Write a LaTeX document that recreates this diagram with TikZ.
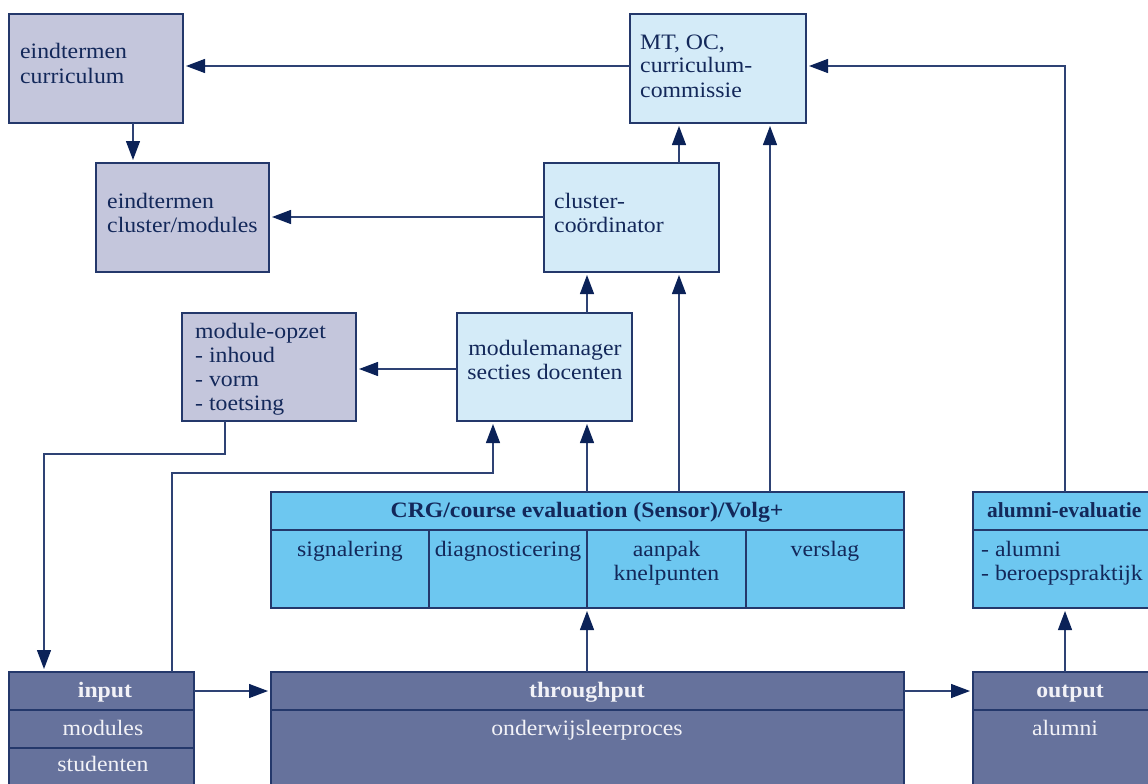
\documentclass[tikz,border=0pt]{standalone}
\usepackage{fontspec}
\setmainfont{Liberation Serif}[FakeStretch=1.08]
\newfontfamily\narrowserif{Liberation Serif}
\usetikzlibrary{arrows.meta}
\definecolor{lav}{HTML}{C4C6DC}
\definecolor{pale}{HTML}{D4EBF8}
\definecolor{sky}{HTML}{6DC7F0}
\definecolor{dark}{HTML}{66729C}
\definecolor{boxline}{HTML}{24386B}
\definecolor{linecol}{HTML}{2E4274}
\definecolor{tipcol}{HTML}{0B2258}
\definecolor{navy}{HTML}{13285A}
\definecolor{paper}{HTML}{F2F2F7}
\begin{document}
\begin{tikzpicture}[x=1pt,y=-1pt,
  blk/.style={draw=boxline,line width=1.2pt,inner sep=0pt,outer sep=0pt},
  lavbox/.style={blk,fill=lav},
  palebox/.style={blk,fill=pale},
  skybox/.style={blk,fill=sky},
  darkbox/.style={blk,fill=dark},
  divider/.style={draw=boxline,line width=1.2pt},
  txt/.style={font=\fontsize{22}{24}\selectfont,text=navy,inner sep=0pt,anchor=base west},
  ctxt/.style={txt,anchor=base},
  btxt/.style={ctxt,font=\fontsize{22}{24}\selectfont\bfseries},
  wtxt/.style={ctxt,text=paper},
  wbtxt/.style={btxt,text=paper},
  arr/.style={draw=linecol,line width=1.3pt,-{Triangle[length=19pt,width=14pt,color=tipcol]},shorten >=3pt}
]
\useasboundingbox (0,0) rectangle (1148,784);
\clip (0,0) rectangle (1148,784);

% ---- boxes ----
\node[lavbox,minimum width=174pt,minimum height=109pt] (cur) at (96,68.5) {};
\node[palebox,minimum width=176pt,minimum height=109pt] (mt) at (718,68.5) {};
\node[lavbox,minimum width=173pt,minimum height=109pt] (clm) at (182.5,217.5) {};
\node[palebox,minimum width=175pt,minimum height=109pt] (cc) at (631.5,217.5) {};
\node[lavbox,minimum width=174pt,minimum height=108pt] (mo) at (269,367) {};
\node[palebox,minimum width=175pt,minimum height=108pt] (mm) at (544.5,367) {};
\node[skybox,minimum width=633pt,minimum height=116pt] (crg) at (587.5,550) {};
\node[skybox,minimum width=194pt,minimum height=116pt] (alu) at (1070,550) {};
\node[darkbox,minimum width=185pt,minimum height=128pt] (inp) at (101.5,736) {};
\node[darkbox,minimum width=633pt,minimum height=128pt] (thr) at (587.5,736) {};
\node[darkbox,minimum width=194pt,minimum height=128pt] (out) at (1070,736) {};

% ---- row and column dividers ----
\draw[divider] (271,530) -- (904,530);
\draw[divider] (429,530) -- (429,608);
\draw[divider] (587,530) -- (587,608);
\draw[divider] (746,530) -- (746,608);
\draw[divider] (973,530) -- (1167,530);
\draw[divider] (9,710) -- (194,710);
\draw[divider] (9,748) -- (194,748);
\draw[divider] (271,710) -- (904,710);
\draw[divider] (973,710) -- (1167,710);

% ---- texts ----
\node[txt] (cur1) at (20,59) {eindtermen};
\node[txt] (cur2) at (20,83) {curriculum};
\node[txt] (mt1) at (640,49) {MT, OC,};
\node[txt] (mt2) at (640,73) {curriculum-};
\node[txt] (mt3) at (640,97) {commissie};
\node[txt] (clm1) at (107,208) {eindtermen};
\node[txt] (clm2) at (107,232) {cluster/modules};
\node[txt] (cc1) at (554,208) {cluster-};
\node[txt] (cc2) at (554,232) {coördinator};
\node[txt] (mo1) at (195,338) {module-opzet};
\node[txt] (mo2) at (195,362) {- inhoud};
\node[txt] (mo3) at (195,386) {- vorm};
\node[txt] (mo4) at (195,410) {- toetsing};
\node[ctxt] (mm1) at (545,355) {modulemanager};
\node[ctxt] (mm2) at (545,379) {secties docenten};
\node[btxt] (crg0) at (587,517) {CRG/course evaluation (Sensor)/Volg+};
\node[ctxt] (crg1) at (350,556) {signalering};
\node[ctxt] (crg2) at (508,556) {diagnosticering};
\node[ctxt] (crg3) at (666.5,556) {aanpak};
\node[ctxt] (crg3b) at (666.5,580) {knelpunten};
\node[ctxt] (crg4) at (825,556) {verslag};
\node[btxt,anchor=base west,font=\narrowserif\fontsize{21.5}{24}\selectfont\bfseries] (alu0) at (987,517) {alumni-evaluatie};
\node[txt] (alu1) at (981,556) {- alumni};
\node[txt] (alu2) at (981,580) {- beroepspraktijk};
\node[wbtxt] (inp0) at (105,697) {input};
\node[wtxt] (inp1) at (103,735) {modules};
\node[wtxt] (inp2) at (103,771) {studenten};
\node[wbtxt] (thr0) at (587,697) {throughput};
\node[wtxt] (thr1) at (587,735) {onderwijsleerproces};
\node[wbtxt] (out0) at (1070,697) {output};
\node[wtxt] (out1) at (1065,735) {alumni};

% ---- connectors ----
\draw[arr] (mt.west |- 0,66) -- (cur.east |- 0,66);
\draw[arr] (cur.south -| 133,0) -- (clm.north -| 133,0);
\draw[arr] (cc.west |- 0,217) -- (clm.east |- 0,217);
\draw[arr] (cc.north -| 679,0) -- (mt.south -| 679,0);
\draw[arr] (crg.north -| 770,0) -- (mt.south -| 770,0);
\draw[arr] (alu.north -| 1065,0) |- (mt.east |- 0,66);
\draw[arr] (mm.west |- 0,369) -- (mo.east |- 0,369);
\draw[arr] (mm.north -| 587,0) -- (cc.south -| 587,0);
\draw[arr] (crg.north -| 679,0) -- (cc.south -| 679,0);
\draw[arr] (crg.north -| 587,0) -- (mm.south -| 587,0);
\draw[arr] (inp.north -| 172,0) |- (493,473) -- (mm.south -| 493,0);
\draw[arr] (mo.south -| 225,0) |- (44,454) -- (inp.north -| 44,0);
\draw[arr] (inp.east |- 0,691) -- (thr.west |- 0,691);
\draw[arr] (thr.east |- 0,691) -- (out.west |- 0,691);
\draw[arr] (thr.north -| 587,0) -- (crg.south -| 587,0);
\draw[arr] (out.north -| 1065,0) -- (alu.south -| 1065,0);
\end{tikzpicture}
\end{document}
